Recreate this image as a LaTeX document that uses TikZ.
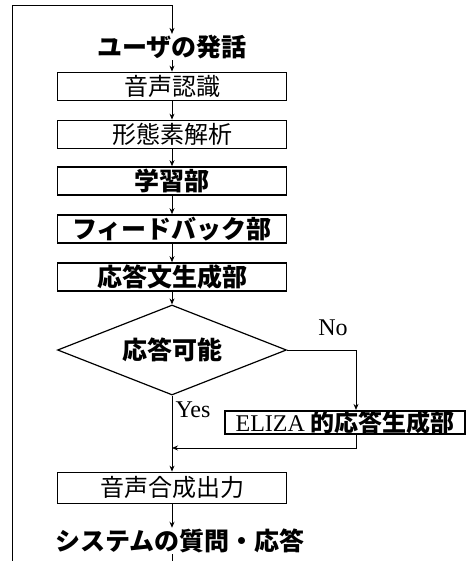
\documentclass[tikz,border=0pt]{standalone}
\usepackage{fontspec}
\setmainfont{Liberation Serif}
\newfontfamily\jp{Noto Sans CJK JP}
\usetikzlibrary{positioning,shapes.geometric,arrows.meta}

\tikzset{
  proc/.style={draw,line width=0.8pt,minimum width=229pt,minimum height=28pt,inner sep=0pt,
    font=\jp\fontsize{24}{26}\selectfont},
  procb/.style={proc,line width=1.6pt,font=\jp\bfseries\fontsize{25}{26}\selectfont},
  term/.style={inner sep=1pt,font=\jp\bfseries\fontsize{25}{26}\selectfont},
  lab/.style={inner sep=0pt,font=\fontsize{24}{26}\selectfont},
  flow/.style={line width=0.8pt,-{Stealth[length=6pt,width=5pt]}},
}

\begin{document}
\begin{tikzpicture}[x=1pt,y=1pt]
\useasboundingbox (0,0) rectangle (465,-561);

\node [term] (usr) at (172,-47) {ユーザの発話};
\node [proc] (asr) at (172,-86) {音声認識};
\node [proc] (morph) at (172,-134) {形態素解析};
\node [procb] (learn) at (172,-181) {学習部};
\node [procb] (fb) at (172,-229) {フィードバック部};
\node [procb] (gen) at (172,-277) {応答文生成部};
\node [draw,diamond,aspect=2.5,line width=1.2pt,minimum width=229pt,minimum height=90pt,inner sep=0pt,
  font=\jp\bfseries\fontsize{25}{26}\selectfont] (ok) at (172,-350) {応答可能};
\node [procb,minimum width=240pt,minimum height=21pt,font=\jp\bfseries\fontsize{24}{26}\selectfont] (eliza) at (345,-422.5)
  {{\normalfont ELIZA} 的応答生成部};
\node [proc,minimum height=31pt] (tts) at (172,-487.5) {音声合成出力};
\node [term] (sys) at (180,-541) {システムの質問・応答};

% loop back to the top
\coordinate (bl) at (12,-561);
\coordinate (tl) at (12,-5);
\coordinate (end) at (172,-561);
\draw [flow] (bl) -- (tl) -| (usr.north);

\draw [flow] (usr.south) -- (asr.north);
\draw [flow] (asr.south) -- (morph.north);
\draw [flow] (morph.south) -- (learn.north);
\draw [flow] (learn.south) -- (fb.north);
\draw [flow] (fb.south) -- (gen.north);
\draw [flow] (gen.south) -- (ok.north);

% ...
\coordinate (mrg) at (172,-448);
\draw [flow] (ok.east) -| ([xshift=11pt]eliza.north);
\draw [flow] ([xshift=11pt]eliza.south) |- (mrg);
\draw [flow] (ok.south) -- (tts.north);
\draw [flow] (tts.south) -- (tts.south |- sys.north);
\draw [line width=0.8pt] (tts.south |- sys.south) -- (end);

\node [lab] at (333,-328) {No};
\node [lab] at (193,-410) {Yes};
\end{tikzpicture}
\end{document}
